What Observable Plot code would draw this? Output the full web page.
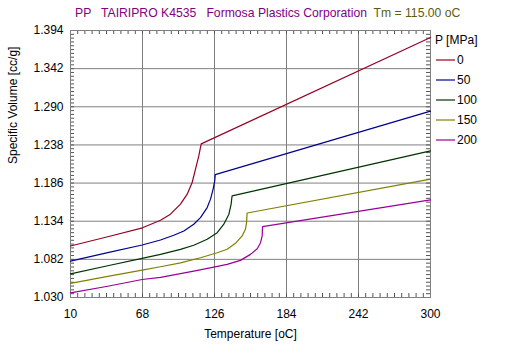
<!DOCTYPE html>
<html><head><meta charset="utf-8">
<script src="https://cdn.jsdelivr.net/npm/d3@7"></script>
<script src="https://cdn.jsdelivr.net/npm/@observablehq/plot@0.6"></script>
<style>
body{margin:0;background:#fff;font-family:"Liberation Sans",Arial,sans-serif;}
#wrap{position:relative;width:510px;height:355px;}
#title{position:absolute;left:75px;top:5px;font-size:12.2px;white-space:pre;line-height:16px;}
#legend{position:absolute;left:435px;top:30px;font-size:12px;line-height:16px;}
#legend div{height:20px;display:flex;align-items:center;white-space:pre;}
</style></head><body><div id="wrap"><div id="title"></div><div id="legend"></div></div>
<script>
// ---- data ----
const titleMain = "PP   TAIRIPRO K4535   Formosa Plastics Corporation  ";
const titleTm = "Tm = 115.00 oC";
const xLabel = "Temperature [oC]";
const yLabel = "Specific Volume [cc/g]";
const legendTitle = "P [MPa]";
const pressures = [0, 50, 100, 150, 200];
const colors = ["#990022", "#000090", "#003300", "#808000", "#990099"];
const xTicks = [10, 68, 126, 184, 242, 300];
const yTicks = [1.030, 1.082, 1.134, 1.186, 1.238, 1.290, 1.342, 1.394];

const T_P0 = [10, 40, 68, 82.5, 90.5, 98.6, 104, 108, 110.7, 113.4, 114.7, 115.3, 300];
const V_P0 = [1.1002, 1.1128, 1.1250, 1.1354, 1.1436, 1.1573, 1.1709, 1.1868, 1.2051, 1.2233, 1.2347, 1.2394, 1.3844];
const T_P50 = [10, 40, 67.7, 82.5, 93.2, 101.3, 109.3, 114.7, 120.1, 122.8, 124.9, 126.2, 126.6, 300];
const V_P50 = [1.0797, 1.0911, 1.1016, 1.1084, 1.1148, 1.1207, 1.1299, 1.1389, 1.1526, 1.1641, 1.1778, 1.1891, 1.1975, 1.2840];
const T_P100 = [10, 40, 67.7, 82.5, 98.6, 109.3, 120.1, 128.2, 133.5, 137.6, 139.4, 139.9, 140.2, 300];
const V_P100 = [1.0623, 1.0733, 1.0834, 1.0888, 1.0957, 1.1012, 1.1094, 1.1184, 1.1299, 1.1436, 1.1573, 1.1650, 1.1686, 1.2298];
const T_P150 = [10, 40, 67.7, 82.5, 98.6, 114.7, 128.2, 136.2, 142.9, 148.3, 150.9, 151.8, 152.3, 300];
const V_P150 = [1.0492, 1.0587, 1.0674, 1.0719, 1.0773, 1.0842, 1.0910, 1.0957, 1.1039, 1.1139, 1.1230, 1.1321, 1.1452, 1.1915];
const T_P200 = [10, 40, 67.7, 82.5, 109.3, 125.4, 136.2, 146.9, 155.0, 160.4, 163.1, 164.4, 164.7, 300];
const V_P200 = [1.0363, 1.0453, 1.0545, 1.0575, 1.0660, 1.0715, 1.0752, 1.0806, 1.0888, 1.0965, 1.1047, 1.1139, 1.1266, 1.1631];

// ---- build ----
const Ts = [T_P0, T_P50, T_P100, T_P150, T_P200];
const Vs = [V_P0, V_P50, V_P100, V_P150, V_P200];
const rows = [];
pressures.forEach((p, i) => Ts[i].forEach((t, j) => rows.push({P: String(p), T: t, V: Vs[i][j]})));

const xMinor = [];
for (let i = 0; i <= 50; i++) xMinor.push(xTicks[0] + i * (xTicks[1] - xTicks[0]) / 10);
const yMinor = [];
for (let i = 0; i <= 70; i++) yMinor.push(yTicks[0] + i * (yTicks[1] - yTicks[0]) / 10);
const gray = "#808080";
const tickColor = "#555";
const W = 510, H = 355, mL = 70, mR = 80, mT = 30, mB = 58;
const fw = W - mL - mR, fh = H - mT - mB, tk = 4;

const chart = Plot.plot({
  width: W, height: H,
  marginLeft: mL, marginRight: mR, marginTop: mT, marginBottom: mB,
  style: {fontFamily: "Liberation Sans, Arial, sans-serif", fontSize: "11px", color: "#000", background: "transparent"},
  x: {domain: [10, 300]},
  y: {domain: [1.030, 1.394]},
  color: {domain: pressures.map(String), range: colors},
  marks: [
    Plot.gridX(xTicks, {stroke: gray, strokeOpacity: 1}),
    Plot.gridY(yTicks, {stroke: gray, strokeOpacity: 1}),
    Plot.ruleX(xMinor, {insetTop: fh - tk, stroke: tickColor}),
    Plot.ruleX(xMinor, {insetBottom: fh - tk, stroke: tickColor}),
    Plot.ruleY(yMinor, {insetRight: fw - tk, stroke: tickColor}),
    Plot.ruleY(yMinor, {insetLeft: fw - tk, stroke: tickColor}),
    Plot.axisX(xTicks, {anchor: "bottom", tickSize: 0, tickPadding: 12, tickFormat: d => String(d), label: null, fontSize: 12}),
    Plot.axisY(yTicks, {anchor: "left", tickSize: 0, tickPadding: 7, tickFormat: d3.format(".3f"), label: null, fontSize: 12}),
    Plot.frame({stroke: gray}),
    Plot.line(rows, {x: "T", y: "V", z: "P", stroke: "P", strokeWidth: 1.2}),
    Plot.text([xLabel], {frameAnchor: "bottom", dy: 40, fontSize: 12}),
    Plot.text([yLabel], {frameAnchor: "left", rotate: -90, dx: -57, fontSize: 12})
  ]
});
document.getElementById("wrap").prepend(chart);
chart.style.position = "absolute"; chart.style.left = "0"; chart.style.top = "0";

const title = document.getElementById("title");
title.innerHTML = `<span style="color:#800080">${titleMain}</span><span style="color:#5c5c10">${titleTm}</span>`;

const legend = document.getElementById("legend");
let html = `<div>${legendTitle}</div>`;
pressures.forEach((p, i) => {
  html += `<div><svg width="22" height="10"><line x1="1" x2="20" y1="5" y2="5" stroke="${colors[i]}" stroke-width="1.2"/></svg><span>${p}</span></div>`;
});
legend.innerHTML = html;
</script>
</body></html>
